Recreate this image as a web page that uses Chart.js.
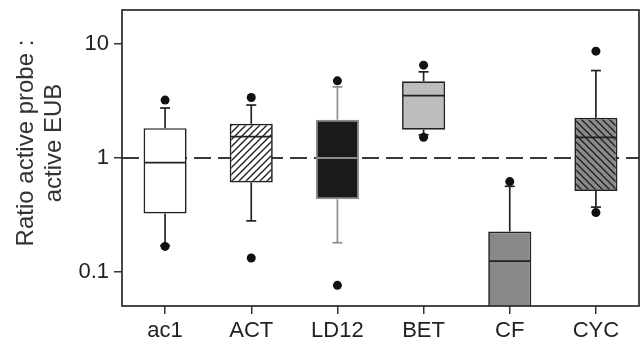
<!DOCTYPE html>
<html>
<head>
<meta charset="utf-8">
<script src="https://cdn.jsdelivr.net/npm/chart.js@4/dist/chart.umd.min.js"></script>
<style>
  html, body { margin: 0; padding: 0; background: #fff; }
  #wrap { width: 644px; height: 342px; }
</style>
</head>
<body>
<div id="wrap"><canvas id="boxChart" width="644" height="342"></canvas></div>
<script>
// valores (escala log)
const categorias = ['ac1', 'ACT', 'LD12', 'BET', 'CF', 'CYC'];
const bigodeInf = [0.17, 0.28, 0.18, 1.6, 0.03, 0.37];
const quartil1 = [0.325, 0.61, 0.434, 1.77, 0.04, 0.513];
const mediana = [0.91, 1.54, 1.0, 3.54, 0.124, 1.52];
const quartil3 = [1.83, 2.0, 2.17, 4.73, 0.226, 2.26];
const bigodeSup = [2.75, 2.92, 4.22, 5.72, 0.564, 5.87];
const outlierSup = [3.23, 3.4, 4.77, 6.55, 0.62, 8.69];
const outlierInf = [0.167, 0.132, 0.076, 1.52, null, 0.331];
const ticksY = [0.1, 1, 10];

function hachura(fundo, cor, invertida) {
  const c = document.createElement('canvas');
  c.width = 7; c.height = 7;
  const g = c.getContext('2d');
  g.fillStyle = fundo;
  g.fillRect(0, 0, 7, 7);
  g.strokeStyle = cor;
  g.lineWidth = 1.3;
  g.beginPath();
  if (invertida) {
    g.moveTo(-1, -1); g.lineTo(8, 8);
    g.moveTo(-1, 6); g.lineTo(1, 8);
    g.moveTo(6, -1); g.lineTo(8, 1);
  } else {
    g.moveTo(-1, 8); g.lineTo(8, -1);
    g.moveTo(-1, 1); g.lineTo(1, -1);
    g.moveTo(6, 8); g.lineTo(8, 6);
  }
  g.stroke();
  return g.createPattern(c, 'repeat');
}

const preenchimentos = [
  '#ffffff',
  hachura('#ffffff', '#1a1a1a', false),
  '#1a1a1a',
  '#bdbdbd',
  '#888888',
  hachura('#8a8a8a', '#1e1e1e', true)
];
const bordas = ['#222', '#222', '#8c8c8c', '#222', '#222', '#222'];
const corBigode = ['#222', '#222', '#8c8c8c', '#222', '#222', '#222'];
const corMediana = ['#222', '#222', '#8c8c8c', '#222', '#222', '#222'];

function recortar(ctx, a) {
  ctx.beginPath();
  ctx.rect(a.left, a.top, a.right - a.left, a.bottom - a.top);
  ctx.clip();
}

const boxPlugin = {
  id: 'boxExtras',
  beforeDatasetsDraw(chart) {
    const { ctx, chartArea, scales: { x, y } } = chart;
    ctx.save();
    recortar(ctx, chartArea);
    // linha tracejada em 1
    const y1 = y.getPixelForValue(1);
    ctx.strokeStyle = '#3a3a3a';
    ctx.lineWidth = 1.8;
    ctx.setLineDash([17, 7]);
    ctx.beginPath();
    ctx.moveTo(chartArea.left, y1);
    ctx.lineTo(chartArea.right, y1);
    ctx.stroke();
    ctx.setLineDash([]);
    // bigodes
    ctx.lineWidth = 1.7;
    categorias.forEach((c, i) => {
      const cx = x.getPixelForValue(i);
      ctx.strokeStyle = corBigode[i];
      const pares = [[bigodeInf[i], quartil1[i]], [quartil3[i], bigodeSup[i]]];
      pares.forEach(([a, b]) => {
        ctx.beginPath();
        ctx.moveTo(cx, y.getPixelForValue(a));
        ctx.lineTo(cx, y.getPixelForValue(b));
        ctx.stroke();
      });
      [bigodeInf[i], bigodeSup[i]].forEach(v => {
        const py = y.getPixelForValue(v);
        ctx.beginPath();
        ctx.moveTo(cx - 5, py);
        ctx.lineTo(cx + 5, py);
        ctx.stroke();
      });
    });
    ctx.restore();
  },
  afterDatasetDraw(chart, args) {
    if (args.meta.type !== 'bar') return;
    const { ctx, chartArea, scales: { y } } = chart;
    ctx.save();
    recortar(ctx, chartArea);
    ctx.lineWidth = 1.8;
    args.meta.data.forEach((bar, i) => {
      const py = y.getPixelForValue(mediana[i]);
      ctx.strokeStyle = corMediana[i];
      ctx.beginPath();
      ctx.moveTo(bar.x - bar.width / 2 + 1, py);
      ctx.lineTo(bar.x + bar.width / 2 - 1, py);
      ctx.stroke();
    });
    ctx.restore();
  },
  afterDraw(chart) {
    const { ctx, chartArea } = chart;
    ctx.save();
    // moldura
    ctx.strokeStyle = '#2a2a2a';
    ctx.lineWidth = 1.7;
    ctx.strokeRect(chartArea.left, chartArea.top, chartArea.right - chartArea.left, chartArea.bottom - chartArea.top);
    // título do eixo y
    ctx.fillStyle = '#333';
    ctx.font = '24px "Liberation Sans", Arial, sans-serif';
    ctx.textAlign = 'center';
    ctx.textBaseline = 'middle';
    ctx.translate(0, 143);
    ctx.rotate(-Math.PI / 2);
    ctx.fillText('Ratio active probe :', 0, 26);
    ctx.fillText('active EUB', 0, 54);
    ctx.restore();
  }
};

new Chart(document.getElementById('boxChart'), {
  type: 'bar',
  data: {
    labels: categorias,
    datasets: [
      {
        type: 'line',
        data: outlierSup,
        showLine: false,
        pointRadius: 4.5,
        pointBackgroundColor: '#111',
        pointBorderWidth: 0,
        order: 0
      },
      {
        type: 'line',
        data: outlierInf,
        showLine: false,
        pointRadius: 4.5,
        pointBackgroundColor: '#111',
        pointBorderWidth: 0,
        order: 0
      },
      {
        data: categorias.map((c, i) => [quartil1[i], quartil3[i]]),
        backgroundColor: preenchimentos,
        borderColor: bordas,
        borderWidth: 1.7,
        borderSkipped: false,
        barPercentage: 0.5,
        categoryPercentage: 1.0,
        order: 1
      }
    ]
  },
  options: {
    responsive: false,
    animation: false,
    layout: { padding: { top: 10, right: 5, left: 0, bottom: 0 } },
    plugins: {
      legend: { display: false },
      tooltip: { enabled: false }
    },
    scales: {
      x: {
        offset: true,
        border: { display: false },
        grid: { display: true, drawOnChartArea: false, drawTicks: true, tickLength: 8, color: '#333', lineWidth: 1.5, offset: false },
        ticks: { color: '#222', font: { size: 22, family: '"Liberation Sans", Arial, sans-serif' }, padding: 4, maxRotation: 0 },
        afterFit(scale) {
          scale.height = 36;
          scale.paddingLeft = 0;
          scale.paddingRight = 0;
        }
      },
      y: {
        type: 'logarithmic',
        min: 0.05,
        max: 20,
        border: { display: false },
        grid: { display: true, drawOnChartArea: false, drawTicks: true, tickLength: 8, color: '#333', lineWidth: 1.5 },
        ticks: {
          color: '#222',
          font: { size: 22, family: '"Liberation Sans", Arial, sans-serif' },
          padding: 5,
          callback: v => String(v)
        },
        afterBuildTicks(scale) {
          scale.ticks = ticksY.map(v => ({ value: v }));
        },
        afterFit(scale) {
          scale.width = 122;
          scale.paddingTop = 0;
          scale.paddingBottom = 0;
        }
      }
    }
  },
  plugins: [boxPlugin]
});
</script>
</body>
</html>
